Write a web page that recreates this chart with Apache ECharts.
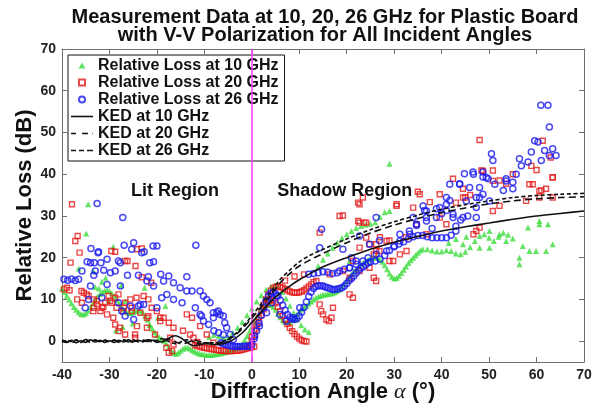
<!DOCTYPE html>
<html>
<head>
<meta charset="utf-8">
<script src="https://cdn.jsdelivr.net/npm/echarts@6/dist/echarts.min.js"></script>
<style>
  html, body { margin: 0; padding: 0; background: #fff; }
  #chart { width: 600px; height: 410px; }
</style>
</head>
<body>
<div id="chart"></div>
<script>
// measured relative loss, [angle (deg), loss (dB)]
var ghz10 = [
  [-34.5,32.8],[-34.9,25.8],[-33.4,16.8],[-29.2,22.6],[-26.7,9.6],[-36.5,17.4],[-30.8,15.2],[-27.5,13.4],[-31.6,14.2],[-30.2,9.8],
  [-22.6,12.8],[-18.2,8.4],[-25.1,4.2],[-28.6,2.6],[-27.2,3.4],[-21.5,3.8],[-19.8,5.6],[-33,13],[-32.2,12.6],
  [-40,12.6],[-39.5,11.8],[-39,10.9],[-38.5,10],[-38,9.1],[-37.5,8.2],[-37,7.5],[-36.5,6.9],[-36,6.5],[-35.5,6.4],
  [-35,6.7],[-34.5,7.3],[-34,8.1],[-33.5,9],[-33,9.9],[-32.5,10.7],[-32,11.3],[-31.5,11.8],[-31,12.1],[-30.5,12.2],
  [-30,12],[-29.5,11.5],[-29,10.8],[-28.5,10],[-28,9.1],[-27.5,8.3],[-27,7.6],[-26.5,7.1],[-26,6.8],[-25.5,6.7],
  [-25,6.9],[-24.5,7.2],[-24,7.4],[-23.5,7.3],[-23,6.9],[-22.5,6.1],[-22,5.1],[-21.5,4],[-21,3],[-20.5,2.1],
  [-20,1.4],[-19.5,0.9],[-19,0.5],[-18.5,0.1],[-18,-0.6],[-17.5,-1.5],[-17,-2.3],[-16.5,-2.8],[-16,-3],[-15.5,-2.8],
  [-15,-2.3],[-14.5,-1.8],[-14,-1.5],[-13.5,-1.5],[-13,-1.8],[-12.5,-2.2],[-12,-2.5],[-11.5,-2.8],[-11,-3],[-10.5,-3.1],
  [-10,-3.2],[-9.5,-3.3],[-9,-3.3],[-8.5,-3.3],[-8,-3.2],[-7.5,-3.1],[-7,-3],[-6.5,-2.9],[-6,-2.8],[-5.5,-2.6],
  [-5,-2.5],[-4.5,-2.3],[-4,-2.1],[-3.5,-1.9],[-3,-1.6],
  [-9,1],[-8,1.5],[-7,1.2],[-6,0.8],[-5,1],[-4,2],[-3,3.2],[-2,4.6],[-1,6.2],[0,7.8],
  [1,9.5],[2,11],[3,12.3],[4,13.1],[4.8,13.4],[5.6,13],[6.4,11.8],[7.2,10.2],[8,8.5],[8.8,6.8],
  [9.6,5.2],[10.4,3.8],[11.2,2.8],[12,2.2],
  [-2.5,-1.2],[-2,-0.6],[-1.5,0.2],[-1,1.2],[-0.5,2.3],[0,3.4],[0.5,4.5],[1,5.6],[1.5,6.6],[2,7.5],
  [2.5,8.2],[3,8.6],[3.5,8.8],[4,8.7],[4.5,8.2],[5,7.5],[5.5,6.6],[6,5.7],[6.5,5],[7,4.6],
  [7.5,4.5],[8,4.6],[8.5,5],[9,5.6],[9.5,6.3],[10,7],[10.5,7.6],[11,8.1],[11.5,8.5],[12,9],
  [12.5,9.5],[13,10],[13.5,10.4],[14,10.7],[14.5,10.9],[15,11.1],[15.5,11.2],[16,11.3],[16.5,11.4],[17,11.5],
  [17.5,11.7],[18,12],[18.5,12.4],[19,13],[19.5,13.7],[20,14.5],[20.5,15.3],[21,16],[21.5,16.7],[22,17.3],
  [22.5,17.9],[23,18.4],[23.5,18.8],[24,19.2],[24.5,19.5],[25,19.8],[25.5,20],[26,20.1],[26.5,20],[27,19.6],
  [27.5,19],[28,18.2],[28.5,17.2],[29,16.2],[29.5,15.4],[30,15],[30.5,15.1],[31,15.6],[31.5,16.3],[32,17.1],
  [32.5,17.9],[33,18.7],[33.5,19.4],[34,20],[34.5,20.6],[35,21.2],[35.5,21.7],[36,22],[37,22],[38,21.7],
  [39,21.5],[40,21.5],[41,21.8],[42,21.6],[43,21],[44,20.8],[45,21.4],[46,22.5],[47,24],[48,25.2],
  [49,25.6],[50,24.8],[51,24],[52,25],[53,26],[54,25.5],[55,24.6],
  [14,18],[15,19.5],[16,21],[17,22.4],[18,23.6],[19,24.7],[20,25.6],[21,26.4],[22,27.1],[23,27.6],
  [24,27.9],[25,28.1],[26,28.5],[27,29.8],[28,30.9],[29,31.2],[20.6,19.2],[29,42.5],
  [44.5,23.2],[45.2,25],[50.1,26.4],[52.2,25.6],[53.6,24],[58.2,27.2],[60.6,28.8],[62.4,28],[56.4,20],[59.9,21.6],
  [63.4,23.2],[57.1,22.8],[50.1,22.4],[48,22.4],[56.4,18.4],[58.5,21.6],[60.6,28],[62,21.6],[41.5,23.5],[43,24.5]
];
var ghz20 = [
  [-37.9,32.8],[-37.2,24],[-36.7,25.2],[-36.3,21.2],[-38.2,18.8],[-28.8,21.4],[-26.7,19.2],[-23.2,22.2],[-29.6,21.6],[-24.2,22],
  [-26.2,19.2],[-24.5,18],[-23.2,15.3],[-21.2,14],
  [-39.6,12.4],[-39,12.8],[-38.4,12.2],[-35.9,12],[-35.4,11.6],[-34.8,11.2],[-34.4,10.8],[-33.3,10],[-32.7,9.6],[-32.6,8.8],
  [-31.6,8],[-31.3,8.2],[-30.9,9.2],[-30.2,10.8],[-29.9,9.6],[-28.8,10.4],[-28.1,11.2],[-28.5,8],[-27.1,7.2],[-26.7,9.2],
  [-25.6,10],[-25.3,8],[-24.3,10.4],[-22.8,10.8],[-21.8,10],[-21.1,8],[-20,7.2],[-22.1,5.6],[-23.5,6.8],[-21.8,6],
  [-19.3,5.6],[-33.3,8],[-31.9,7.2],[-30.5,6.4],[-29.5,9.2],[-27,8],[-25.3,7.2],[-36.8,10],[-35.8,9.2],[-33.4,7.2],
  [-29.2,5.6],
  [-28.8,4],[-28.1,2.4],[-27.8,3.2],[-26.7,1.6],[-24.6,1.6],[-24.6,0.8],[-24.2,3.6],[-22.1,3.2],[-20.4,1.6],[-19.3,4.8],
  [-18.6,5.6],[-17.5,4.4],[-16.5,3.2],[-17.2,0.8],[-16.5,-0.8],[-16.8,-2.4],[-17.5,-2.8],[-18,-1.6],[-13.7,6.4],[-12.6,5.6],
  [-13,1.6],[-12.3,0.8],[-10.9,3.6],[-9.5,1.6],[-8.1,-0.4],[-14.5,2.5],[-11.5,-0.2],
  [-12,-1],[-11.5,-1.1],[-11,-1.3],[-10.5,-1.5],[-10,-1.6],[-9.5,-1.7],[-9,-1.8],[-8.5,-1.9],[-8,-2],[-7.5,-2.1],
  [-7,-2.2],[-6.5,-2.3],[-6,-2.3],[-5.5,-2.4],[-5,-2.4],[-4.5,-2.4],[-4,-2.4],[-3.5,-2.3],[-3,-2.3],[-2.5,-2.2],
  [-2,-2.1],[-1.5,-1.9],[-1,-1.8],[-0.5,-1.6],[0,-1.5],[0.5,-1.3],
  [0,1],[0.5,2.5],[1,4],[1.5,5.6],[2,7.2],[2.5,8.7],[3,10],[3.5,11.2],[4,12.1],[4.5,12.7],
  [5,13],[5.5,13.1],[6,13],[6.5,12.8],[7,12.5],[7.5,12.2],[8,11.9],[8.5,11.7],[9,11.6],[9.5,11.6],
  [10,11.7],[10.5,11.9],[11,12.2],[11.5,12.6],[12,13.1],[12.5,13.6],[13,14.1],
  [-0.5,-1],[0,0],[0.5,1.4],[1,3],[1.5,4.6],[2,6.2],[2.5,7.6],[3,8.8],[3.5,9.6],[4,9.9],
  [4.5,9.7],[5,9.1],[5.5,8.2],[6,7.2],[6.5,6.1],[7,5.1],[7.5,4.1],[8,3.2],[8.5,2.4],[9,1.7],
  [9.5,1.1],[10,0.6],[10.5,0.2],[11,0],[11.5,-0.1],
  [14.3,8.8],[15,6.4],[15.7,5.2],[16.2,4.8],[16.8,5.6],[17.1,8],[14.6,7.2],
  [13.6,14.4],[16.4,16],[19.2,16.8],[20.6,15.2],[22.7,16.8],[24.8,17.6],[26.2,14.4],[29.8,19.2],[32.6,21.6],[26.9,21.6],
  [28.4,24],[24.8,23.2],[14.3,26],[19.2,30.1],[22.7,28.4],[23.7,28.4],[22.4,33.2],[24.1,24.8],[26.2,23.2],[30.5,32.8],
  [34,32],[35.4,35.2],[39.6,35.2],[44.5,34.4],[48.7,40.8],[50.8,38.4],[55,40],[59.2,37.6],[63.4,39.2],[60.6,36],
  [48,27.2],[46.7,25.6],[23.4,34.4],[22.7,32.8],[18.5,30],[22.4,28.8],[24.1,28.4],[30.5,32.4],[35,35.8],[42.4,38.9],
  [37.5,33.3],[34.7,28],[39.6,29.6],[27,24.9],[29,24.1],[32.5,24.9],[31.2,20.8],[25.7,20.8],[29,19.2],[22.7,22.4],
  [26.2,21.6],[21.3,19.2],[20.6,11.2],[21.3,10.4],[25.7,15.2],[36.8,25.6],[41,28],[43,33.2],[45,34.4],
  [48.4,40.9],[50.8,40.9],[58.9,42],[60,41],[63.4,39.3],[58.5,37.6],[52.2,38.5],[53.6,37.7],[61,36.1],[62,36.5],
  [52.2,32.4],[57.8,33.6],[60.6,34.4],[63.4,34.4],[47.3,26.4],[50.8,31.2],[61.3,48],[48,48.2],[63,44],[44.5,36.5],
  [46,35],[7,14.5],[9,15.5],[11,16]
];
var ghz26 = [
  [-32.6,33],[-27.2,29.6],[-33.9,22.2],[-32.3,21.4],[-26.9,23],[-24.9,23.6],[-25.3,22],[-22.7,21.4],[-20,22.8],[-11.8,23],
  [-30.5,19.6],[-28.1,19.2],[-20.7,19],[-34.7,19],[-35.8,16.8],[-33,16.8],[-31.2,17],[-29.8,16.4],[-28.8,16.8],[-26.2,15.8],
  [-23.9,15.8],[-21.8,15.4],[-19.2,16],[-17.5,15.6],[-13.7,15.4],[-39.6,14.8],[-38.8,14.6],[-38,14.9],[-37.2,14.5],[-36.5,14.8],
  [-33.3,15.8],[-30.5,13.6],[-34,13.2],[-27.7,13.2],[-22.1,14.4],[-20.7,13.2],[-18.6,14.4],[-16.5,14],[-15.1,12.8],[-13.7,12],
  [-12.6,12],[-10.9,12],[-34.4,10],[-31.6,10.4],[-28.1,9.2],[-25.6,8.4],[-23.5,8.8],[-19,10.4],[-17.9,11.2],[-16.5,10],
  [-14.7,9.2],[-11.9,8],[-9.5,10],[-8.8,9.2],[-35.1,8],[-27.4,7.2],[-26.7,6],[-24.9,5.2],[-23.9,8.4],[-22.8,8.8],
  [-20,8],[-34,18.8],[-32.4,21.2],[-27.7,18.8],[-33.2,18.8],[-31.8,18.8],[-21.5,18.8],[-20.8,22.8],[-23.2,21.2],
  [-10.2,10.8],[-10.6,6],[-8.1,6.8],[-7.1,7.2],[-6,6],[-5.7,4.4],[-10.9,6.4],[-10.2,4.8],[-9.1,4],[-8.1,5.6],
  [-7.4,6.8],[-6.7,6.4],[-5.3,3.2],[-4.6,1.6],[-3.9,0.4],[-8,2.5],[-7,2],[-6,1.5],
  [-6.5,-0.4],[-6,-0.6],[-5.5,-0.8],[-5,-1],[-4.5,-1.1],[-4,-1.2],[-3.5,-1.3],[-3,-1.3],[-2.5,-1.3],[-2,-1.3],
  [-1.5,-1.2],[-1,-1.2],
  [-0.5,-1.2],[0,-0.8],[0.5,0.6],[1,2.4],[1.5,4.3],[2,6.2],[2.5,8],[3,9.6],[3.5,10.8],[4,11.5],
  [4.5,11.7],[5,11.4],[5.5,10.8],[6,9.8],[6.5,8.6],[7,7.4],[7.5,6.4],[8,5.7],[8.5,5.3],[9,5.2],
  [9.5,5.4],[10,6],[10.5,6.9],[11,8.1],[11.5,9.4],[12,10.7],[12.5,11.8],[13,12.6],[13.5,13.1],[14,13.3],
  [14.5,13.3],[15,13.2],[15.5,13],[16,12.8],[16.5,12.6],[17,12.4],[17.5,12.4],[18,12.5],[18.5,12.6],[19,12.8],
  [19.5,13.2],[20,13.8],[20.5,14.5],[21,15],[21.5,15.6],[22,16.3],[22.5,17],[23,17.5],[23.5,17.8],[24,18.3],
  [24.5,18.8],[25,19],[26,19.2],[27,19.7],[28,20.5],[29,21.7],[30,22.6],[31,23.3],[32,23.8],[33,24.5],
  [34,25],[35,25.3],[36,25.3],[37,25],[38,24.8],[39,24.8],[40,24.8],[41,24.8],[42,25.4],[43,26.4],
  [0.6,1.2],[1.6,3.6],[3.1,6.8],[4.2,9.2],[5.2,10.8],[5.9,6.4],[7.3,4.8],[8.7,5.6],[10.1,8],
  [12,16],[13,16.2],[14,16.4],[15,16.6],[16,16.5],[17,16.2],[18,16.4],[18.5,16.8],[19.5,17.2],[20.6,17.6],
  [22,18.4],[23.4,19.2],[24.5,20],[26.2,20.8],[28.4,21.6],[30,22.8],[31.2,24],[33.3,25.6],[34.7,28],[36.8,28.8],
  [38.9,29.6],[39.6,32],[41,32.8],
  [14.3,22.4],[14.7,26.8],[19.2,22],[22,19.2],[26.2,29.6],[34,29.6],[36.1,32.4],[36.8,31.2],[41,34.4],[41.7,37.6],
  [43.8,37.6],[42.4,30.4],[45.2,33.6],[47.3,34.4],[48,36.8],[49.4,39.2],[46.7,40],[48.7,35.2],[53.6,38.4],[55.7,40],
  [60.9,56.5],[62.4,56.5],[62.7,51.3],[59.6,48],[60.3,47.7],[50.5,44.9],[50.8,43.3],[56.4,43.7],[58.9,45.3],[61.7,45.7],
  [63.4,46.1],[64.1,44.5],[62.7,44.5],[56.8,42],[58.2,42.9],[61,43.3],[44.8,40.1],[46.6,40.5],[48.7,39.3],[49.8,38.9],
  [48.7,40.5],[53.6,38.9],[55,38.1],[51.2,37.6],[53,36.1],[55,36.5],[45.9,36.8],[48,34.4],[50.1,33.6],[47.3,32],
  [44.5,29.6],[45.5,30],[47.3,29.6],[40,30.5],[38,27],[43,27.5],[44,29],[43.8,37.7],[41.7,33.7],[41,31.3],
  [42.4,29.6],[36.4,31.3],[36.8,29.6],[38.9,31.7],[34.7,27.7],[33.2,26.4],[31.2,25.6],[26.9,24.1],[24.8,23.2],[22.7,25.2],
  [21,20],[20.6,17.6]
];
// knife-edge diffraction model
var ked10 = [
  [-40,0],[-39,-0.3],[-38,0.2],[-37,-0.4],[-36,0.1],[-35,-0.3],[-34,0.3],[-33,-0.2],[-32,0.2],[-31,-0.3],
  [-30,0.1],[-29,-0.3],[-28,0.2],[-27,-0.2],[-26,0.3],[-25,-0.1],[-24,0.2],[-23,0],[-22,0.3],[-21,0.2],
  [-20,0.1],[-19,-0.2],[-18,0.3],[-17,1],[-16,1.3],[-15,0.8],[-14,0],[-13,-0.8],[-12,-1.1],[-11,-0.9],
  [-10,-0.6],[-8,-0.8],[-6,-0.6],[-4,0.3],[-2,2],[0,4.5],[2,7],[4,9.5],[6,11.5],[8,13.2],
  [10,14.7],[12,16],[15,17.8],[20,20],[25,22],[30,23.7],[35,25.1],[40,26.4],[45,27.4],[50,28.3],
  [55,29.2],[60,30],[65,30.6],[70,31.2]
];
var ked20 = [
  [-40,0.3],[-39,-0.1],[-38,-0.4],[-37,0.2],[-36,-0.2],[-35,0.4],[-34,-0.1],[-33,0.3],[-32,-0.3],[-31,0.2],
  [-30,-0.2],[-29,0.3],[-28,-0.3],[-27,0.2],[-26,-0.2],[-25,0.3],[-24,-0.2],[-23,0.3],[-22,-0.1],[-21,0.2],
  [-20,-0.3],[-19,0.1],[-18,0.5],[-17,0.4],[-16,-0.2],[-15,-0.6],[-14,-0.5],[-13,-0.1],[-12,0.2],[-11,-0.1],
  [-10,-0.3],[-8,-0.5],[-6,-0.2],[-4,1],[-2,3],[0,5.5],[2,8.3],[4,11],[6,14],[8,16.2],
  [10,18],[12,19.3],[15,21],[20,23.6],[25,25.9],[30,27.8],[35,29.4],[40,30.8],[45,31.9],[50,32.9],
  [55,33.6],[60,34.1],[65,34.4],[70,34.6]
];
var ked26 = [
  [-40,-0.2],[-39,0.2],[-38,-0.1],[-37,0.3],[-36,-0.3],[-35,0.1],[-34,-0.3],[-33,0.2],[-32,-0.1],[-31,0.3],
  [-30,-0.1],[-29,0.2],[-28,-0.2],[-27,0.3],[-26,0],[-25,-0.3],[-24,0.1],[-23,-0.2],[-22,0.2],[-21,-0.2],
  [-20,0.2],[-19,0.6],[-18,0.2],[-17,-0.4],[-16,-0.6],[-15,-0.2],[-14,0.3],[-13,0.2],[-12,-0.3],[-11,-0.5],
  [-10,-0.4],[-8,-0.4],[-6,0],[-4,1.3],[-2,3.4],[0,6],[2,9],[4,11.8],[6,14.8],[8,17],
  [10,19],[12,20.4],[15,22],[20,24.5],[25,26.7],[30,28.6],[35,30.2],[40,31.6],[45,32.7],[50,33.6],
  [55,34.4],[60,34.9],[65,35.2],[70,35.4]
];
var yTicks = [0, 10, 20, 30, 40, 50, 60, 70];

var FONT = "'Liberation Sans', Arial, Helvetica, sans-serif";
var AXIS_COLOR = "#707070";

var chart = echarts.init(document.getElementById("chart"), null, { renderer: "canvas" });

function frameAxis(pos, labelShow) {
  return {
    type: "value",
    position: pos,
    axisLine: { show: true, onZero: false, lineStyle: { color: AXIS_COLOR, width: 1 } },
    axisTick: { show: true, inside: true, length: 5, lineStyle: { color: AXIS_COLOR } },
    axisLabel: { show: labelShow, fontFamily: FONT, fontSize: 14, fontWeight: "bold", color: "#222" },
    splitLine: { show: false },
  };
}

var xBottom = frameAxis("bottom", true);
Object.assign(xBottom, {
  min: -40, max: 70, interval: 10,
  name: "Diffraction Angle {a|α} (°)",
  nameLocation: "middle",
  nameGap: 19,
  nameMoveOverlap: false,
  nameTextStyle: {
    fontFamily: FONT, fontSize: 22, fontWeight: "bold", color: "#111",
    rich: { a: { fontFamily: "'Liberation Serif', 'DejaVu Serif', serif", fontStyle: "italic", fontWeight: "normal", fontSize: 22, color: "#111" } }
  },
});
xBottom.axisLabel.margin = 6;
var xTop = frameAxis("top", false);
Object.assign(xTop, { min: -40, max: 70, interval: 10 });

var yLeft = frameAxis("left", true);
Object.assign(yLeft, {
  min: -5, max: 70, interval: 5,
  name: "Relative Loss (dB)",
  nameLocation: "middle",
  nameGap: 26,
  nameMoveOverlap: false,
  nameTextStyle: { fontFamily: FONT, fontSize: 22, fontWeight: "bold", color: "#111" },
});
yLeft.axisLabel.customValues = yTicks;
yLeft.axisLabel.margin = 6;
yLeft.axisTick.customValues = yTicks;
var yRight = frameAxis("right", false);
Object.assign(yRight, { min: -5, max: 70, interval: 5 });
yRight.axisTick.customValues = yTicks;

function kedSeries(name, data, type) {
  return {
    name: name,
    type: "line",
    data: data,
    symbol: "none",
    smooth: 0.3,
    z: 5,
    lineStyle: { color: "#111", width: 1.6, type: type },
    itemStyle: { color: "#111" },
  };
}

var lineSolid = kedSeries("KED at 10 GHz", ked10, "solid");
lineSolid.markLine = {
  silent: true,
  symbol: ["none", "none"],
  label: { show: false },
  lineStyle: { color: "#ff33ff", width: 1.5, type: "solid" },
  data: [{ xAxis: 0 }],
};
lineSolid.markPoint = {
  silent: true,
  symbol: "rect",
  symbolSize: 1,
  itemStyle: { color: "rgba(0,0,0,0)" },
  label: { show: true, position: "inside", fontFamily: FONT, fontSize: 18, fontWeight: "bold", color: "#111" },
  data: [
    { coord: [-16.2, 36], value: "Lit Region", label: { formatter: "Lit Region" } },
    { coord: [19.6, 36], value: "Shadow Region", label: { formatter: "Shadow Region" } },
  ],
};

chart.setOption({
  animation: false,
  backgroundColor: "#fff",
  title: {
    text: "Measurement Data at 10, 20, 26 GHz for Plastic Board\nwith V-V Polarization for All Incident Angles",
    left: 320,
    textAlign: "center",
    top: 3,
    textStyle: { fontFamily: FONT, fontSize: 20, fontWeight: "bold", color: "#111", lineHeight: 18 },
  },
  grid: { left: 62, right: 16, top: 49, bottom: 48, containLabel: false, outerBoundsMode: "none" },
  legend: {
    orient: "vertical",
    left: 68,
    top: 55,
    padding: [2, 6, 2, 3],
    itemWidth: 22,
    itemHeight: 6,
    itemGap: 0,
    symbolKeepAspect: true,
    backgroundColor: "#fff",
    borderColor: "#111",
    borderWidth: 1,
    borderRadius: 0,
    textStyle: { fontFamily: FONT, fontSize: 16, fontWeight: "bold", color: "#111", lineHeight: 17 },
    data: [
      { name: "Relative Loss at 10 GHz", icon: "path://M3,0L6,5.2L0,5.2Z" },
      { name: "Relative Loss at 20 GHz", icon: "path://M0,0H5V5H0Z" },
      { name: "Relative Loss at 26 GHz", icon: "path://M0,3A3,3,0,1,0,6,3A3,3,0,1,0,0,3Z" },
      { name: "KED at 10 GHz", icon: "path://M0,0H22V1.6H0Z" },
      { name: "KED at 20 GHz", icon: "path://M0,0H5V1.6H0Z M11,0H17V1.6H11Z M21.5,0H22V1.6H21.5Z" },
      { name: "KED at 26 GHz", icon: "path://M0,0H5V1.6H0Z M8,0H13V1.6H8Z M16,0H22V1.6H16Z" },
    ],
  },
  xAxis: [xBottom, xTop],
  yAxis: [yLeft, yRight],
  series: [
    {
      name: "Relative Loss at 10 GHz",
      type: "scatter",
      data: ghz10,
      symbol: "triangle",
      symbolSize: 6,
      itemStyle: { color: "#3ddc3d" },
    },
    {
      name: "Relative Loss at 20 GHz",
      type: "scatter",
      data: ghz20,
      symbol: "rect",
      symbolSize: 5,
      itemStyle: { color: "rgba(0,0,0,0)", borderColor: "#e41b1b", borderWidth: 1.4 },
    },
    {
      name: "Relative Loss at 26 GHz",
      type: "scatter",
      data: ghz26,
      symbol: "circle",
      symbolSize: 6,
      itemStyle: { color: "rgba(0,0,0,0)", borderColor: "#1c1cf0", borderWidth: 1.5 },
    },
    lineSolid,
    kedSeries("KED at 20 GHz", ked20, [7, 4]),
    kedSeries("KED at 26 GHz", ked26, [4, 2.5]),
  ],
});
</script>
</body>
</html>
